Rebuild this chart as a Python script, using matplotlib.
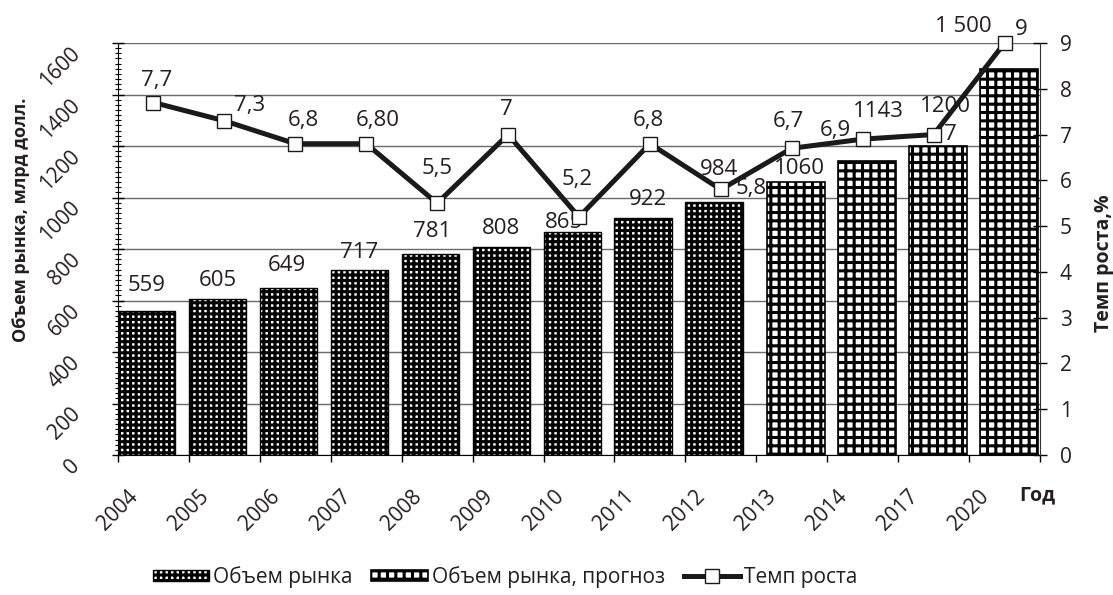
import numpy as np
import matplotlib
matplotlib.use("Agg")
import matplotlib.pyplot as plt
from matplotlib.ticker import MultipleLocator

# data
years = ['2004', '2005', '2006', '2007', '2008', '2009', '2010', '2011', '2012',
         '2013', '2014', '2017', '2020']
market = [559, 605, 649, 717, 781, 808, 865, 922, 984]
market_fc = [1060, 1143, 1200, 1500]
market_labels = ['559', '605', '649', '717', '781', '808', '865', '922', '984',
                 '1060', '1143', '1200', '1 500']
growth = [7.7, 7.3, 6.8, 6.8, 5.5, 7.0, 5.2, 6.8, 5.8, 6.7, 6.9, 7.0, 9.0]
growth_labels = ['7,7', '7,3', '6,8', '6,80', '5,5', '7', '5,2', '6,8', '5,8',
                 '6,7', '6,9', '7', '9']

# label offsets in pixels (hand placed in the original)
bar_off = [(0, 26), (0, 19), (-2, 22), (0, 18), (2, 22), (0, 18), (-8, 10), (5, 18),
           (5, 32), (3, 14), (11, 49), (8, 39), (-45, 42)]
line_off = [(3, 22), (25, 15), (8, 23), (12, 23), (0, 35), (-2, 25), (-2, 37), (-2, 23),
            (30, 1), (-3, 27), (-27, 9), (17, 0), (17, 13)]

txt = '#231f20'
plt.rcParams['font.family'] = ['Open Sans', 'DejaVu Sans']
plt.rcParams['hatch.linewidth'] = 2.2
plt.rcParams['text.color'] = txt

W, H = 1113, 595
fig = plt.figure(figsize=(W / 100, H / 100), dpi=100)
ax = fig.add_axes([118 / W, 1 - 455 / H, (1040 - 118) / W, (455 - 43) / H])
ax2 = ax.twinx()

n = len(years)
idx = np.arange(n)
bw = 0.81

x1 = idx[:len(market)] + bw / 2
x2 = idx[len(market):] + 0.155 + bw / 2
b1 = ax.bar(x1, market, width=bw, color='white', edgecolor='black', lw=1.0,
            hatch='+++', label='Объем рынка')
b2 = ax.bar(x2, market_fc, width=bw, color='white', edgecolor='black', lw=1.2,
            hatch='++', label='Объем рынка, прогноз')

bar_x = list(x1) + list(x2)
bar_v = market + market_fc
for x, v, s, (dx, dy) in zip(bar_x, bar_v, market_labels, bar_off):
    ax.annotate(s, (x, v), xytext=(dx, dy), textcoords='offset pixels',
                ha='center', va='center', fontsize=16, color=txt, annotation_clip=False)

lx = idx + 0.5
ax2.plot(lx, growth, color='#1a1a1a', lw=3.6, marker='s', markersize=10.5,
         markerfacecolor='white', markeredgecolor='#1a1a1a', markeredgewidth=1.0,
         label='Темп роста', zorder=5, clip_on=False)
for x, v, s, (dx, dy) in zip(lx, growth, growth_labels, line_off):
    ax2.annotate(s, (x, v), xytext=(dx, dy), textcoords='offset pixels',
                 ha='center', va='center', fontsize=16, color=txt, annotation_clip=False)

# axes
ax.set_xlim(0, n)
ax.set_ylim(0, 1600)
ax2.set_ylim(0, 9)

ax.set_xticks(np.arange(n + 1))
ax.set_xticklabels(years + [''], rotation=45, ha='center', va='top', fontsize=15, color=txt)
ax.tick_params(axis='x', direction='out', length=5, width=1, pad=17.5)

ax.set_yticks(np.arange(0, 1601, 200))
ax.yaxis.set_minor_locator(MultipleLocator(20))
ax.set_yticklabels([str(v) for v in range(0, 1601, 200)], rotation=45,
                   ha='right', va='top', fontsize=15, color=txt)
ax.tick_params(axis='y', which='major', direction='inout', length=8.6, width=1, pad=20)
ax.tick_params(axis='y', which='minor', direction='inout', length=5, width=0.8)

ax2.set_yticks(range(10))
ax2.set_yticklabels([str(v) for v in range(10)], fontsize=15, color=txt)
ax2.tick_params(axis='y', direction='inout', length=10, width=1, pad=9.4)

ax.yaxis.grid(True, color='#6a6a6a', lw=1.0)
ax.set_axisbelow(True)

for s in ['top', 'right']:
    ax.spines[s].set_visible(False)
for s in ['top', 'left', 'bottom']:
    ax2.spines[s].set_visible(False)
ax.spines['left'].set_color('black')
ax.spines['bottom'].set_color('black')
ax2.spines['right'].set_color('#333333')

# titles
fig.text(12 / W, 1 - 220 / H, 'Объем рынка, млрд долл.', rotation=90, ha='left',
         va='center', fontsize=13, fontweight='bold', color=txt)
fig.text(1094 / W, 1 - 263 / H, 'Темп роста,%', rotation=90, ha='left',
         va='center', fontsize=14, fontweight='bold', color=txt)
fig.text(1037.5 / W, 1 - 495 / H, 'Год', ha='center', va='center',
         fontsize=14, fontweight='bold', color=txt)

h1, l1 = ax.get_legend_handles_labels()
h2, l2 = ax2.get_legend_handles_labels()
fig.legend(h1 + h2, l1 + l2, loc='center', bbox_to_anchor=(505 / W, 1 - 577 / H),
           ncol=3, frameon=False, fontsize=15, handlelength=2.7, handleheight=0.5,
           handletextpad=0.2, columnspacing=0.9, borderaxespad=0)

fig.savefig('out.png', dpi=100)
